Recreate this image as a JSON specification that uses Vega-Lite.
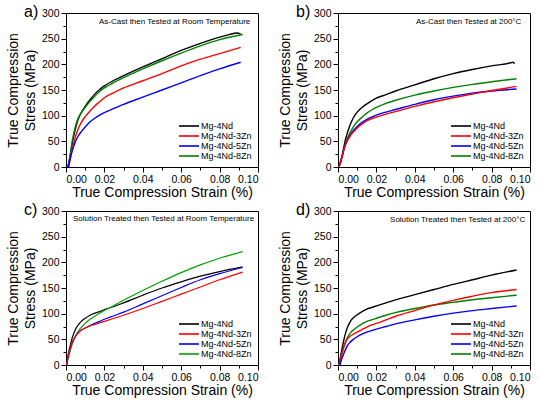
{
  "$schema": "https://vega.github.io/schema/vega-lite/v6.json",
  "padding": {"left": 5, "top": 3, "right": 4, "bottom": 2},
  "datasets": {
    "curves": [
      {"panel":"a","alloy":"Mg-4Nd","strain":0.001,"stress":0},{"panel":"a","alloy":"Mg-4Nd","strain":0.002,"stress":18},{"panel":"a","alloy":"Mg-4Nd","strain":0.003,"stress":40},{"panel":"a","alloy":"Mg-4Nd","strain":0.004,"stress":60},{"panel":"a","alloy":"Mg-4Nd","strain":0.005,"stress":76},{"panel":"a","alloy":"Mg-4Nd","strain":0.006,"stress":89},{"panel":"a","alloy":"Mg-4Nd","strain":0.007,"stress":99},{"panel":"a","alloy":"Mg-4Nd","strain":0.008,"stress":106},{"panel":"a","alloy":"Mg-4Nd","strain":0.01,"stress":118},{"panel":"a","alloy":"Mg-4Nd","strain":0.0125,"stress":131},{"panel":"a","alloy":"Mg-4Nd","strain":0.015,"stress":142},{"panel":"a","alloy":"Mg-4Nd","strain":0.0175,"stress":151},{"panel":"a","alloy":"Mg-4Nd","strain":0.02,"stress":158},{"panel":"a","alloy":"Mg-4Nd","strain":0.025,"stress":169},{"panel":"a","alloy":"Mg-4Nd","strain":0.03,"stress":178},{"panel":"a","alloy":"Mg-4Nd","strain":0.04,"stress":195},{"panel":"a","alloy":"Mg-4Nd","strain":0.05,"stress":211},{"panel":"a","alloy":"Mg-4Nd","strain":0.06,"stress":227},{"panel":"a","alloy":"Mg-4Nd","strain":0.07,"stress":241},{"panel":"a","alloy":"Mg-4Nd","strain":0.08,"stress":253},{"panel":"a","alloy":"Mg-4Nd","strain":0.085,"stress":258},{"panel":"a","alloy":"Mg-4Nd","strain":0.089,"stress":261},{"panel":"a","alloy":"Mg-4Nd","strain":0.091,"stress":259},
      {"panel":"a","alloy":"Mg-4Nd-8Zn","strain":0.001,"stress":0},{"panel":"a","alloy":"Mg-4Nd-8Zn","strain":0.002,"stress":20},{"panel":"a","alloy":"Mg-4Nd-8Zn","strain":0.003,"stress":45},{"panel":"a","alloy":"Mg-4Nd-8Zn","strain":0.004,"stress":65},{"panel":"a","alloy":"Mg-4Nd-8Zn","strain":0.005,"stress":80},{"panel":"a","alloy":"Mg-4Nd-8Zn","strain":0.006,"stress":92},{"panel":"a","alloy":"Mg-4Nd-8Zn","strain":0.007,"stress":100},{"panel":"a","alloy":"Mg-4Nd-8Zn","strain":0.008,"stress":106},{"panel":"a","alloy":"Mg-4Nd-8Zn","strain":0.01,"stress":116},{"panel":"a","alloy":"Mg-4Nd-8Zn","strain":0.0125,"stress":128},{"panel":"a","alloy":"Mg-4Nd-8Zn","strain":0.015,"stress":138},{"panel":"a","alloy":"Mg-4Nd-8Zn","strain":0.0175,"stress":147},{"panel":"a","alloy":"Mg-4Nd-8Zn","strain":0.02,"stress":154},{"panel":"a","alloy":"Mg-4Nd-8Zn","strain":0.025,"stress":165},{"panel":"a","alloy":"Mg-4Nd-8Zn","strain":0.03,"stress":174},{"panel":"a","alloy":"Mg-4Nd-8Zn","strain":0.04,"stress":191},{"panel":"a","alloy":"Mg-4Nd-8Zn","strain":0.05,"stress":207},{"panel":"a","alloy":"Mg-4Nd-8Zn","strain":0.06,"stress":222},{"panel":"a","alloy":"Mg-4Nd-8Zn","strain":0.07,"stress":236},{"panel":"a","alloy":"Mg-4Nd-8Zn","strain":0.08,"stress":248},{"panel":"a","alloy":"Mg-4Nd-8Zn","strain":0.092,"stress":258},
      {"panel":"a","alloy":"Mg-4Nd-3Zn","strain":0.0015,"stress":0},{"panel":"a","alloy":"Mg-4Nd-3Zn","strain":0.003,"stress":30},{"panel":"a","alloy":"Mg-4Nd-3Zn","strain":0.004,"stress":46},{"panel":"a","alloy":"Mg-4Nd-3Zn","strain":0.005,"stress":60},{"panel":"a","alloy":"Mg-4Nd-3Zn","strain":0.006,"stress":71},{"panel":"a","alloy":"Mg-4Nd-3Zn","strain":0.007,"stress":80},{"panel":"a","alloy":"Mg-4Nd-3Zn","strain":0.008,"stress":87},{"panel":"a","alloy":"Mg-4Nd-3Zn","strain":0.01,"stress":98},{"panel":"a","alloy":"Mg-4Nd-3Zn","strain":0.0125,"stress":109},{"panel":"a","alloy":"Mg-4Nd-3Zn","strain":0.015,"stress":119},{"panel":"a","alloy":"Mg-4Nd-3Zn","strain":0.0175,"stress":127},{"panel":"a","alloy":"Mg-4Nd-3Zn","strain":0.02,"stress":135},{"panel":"a","alloy":"Mg-4Nd-3Zn","strain":0.025,"stress":145},{"panel":"a","alloy":"Mg-4Nd-3Zn","strain":0.03,"stress":154},{"panel":"a","alloy":"Mg-4Nd-3Zn","strain":0.04,"stress":168},{"panel":"a","alloy":"Mg-4Nd-3Zn","strain":0.05,"stress":182},{"panel":"a","alloy":"Mg-4Nd-3Zn","strain":0.06,"stress":197},{"panel":"a","alloy":"Mg-4Nd-3Zn","strain":0.07,"stress":210},{"panel":"a","alloy":"Mg-4Nd-3Zn","strain":0.08,"stress":221},{"panel":"a","alloy":"Mg-4Nd-3Zn","strain":0.091,"stress":233},
      {"panel":"a","alloy":"Mg-4Nd-5Zn","strain":0.001,"stress":0},{"panel":"a","alloy":"Mg-4Nd-5Zn","strain":0.002,"stress":14},{"panel":"a","alloy":"Mg-4Nd-5Zn","strain":0.003,"stress":28},{"panel":"a","alloy":"Mg-4Nd-5Zn","strain":0.004,"stress":40},{"panel":"a","alloy":"Mg-4Nd-5Zn","strain":0.005,"stress":50},{"panel":"a","alloy":"Mg-4Nd-5Zn","strain":0.006,"stress":58},{"panel":"a","alloy":"Mg-4Nd-5Zn","strain":0.007,"stress":64},{"panel":"a","alloy":"Mg-4Nd-5Zn","strain":0.008,"stress":69},{"panel":"a","alloy":"Mg-4Nd-5Zn","strain":0.01,"stress":78},{"panel":"a","alloy":"Mg-4Nd-5Zn","strain":0.0125,"stress":88},{"panel":"a","alloy":"Mg-4Nd-5Zn","strain":0.015,"stress":95},{"panel":"a","alloy":"Mg-4Nd-5Zn","strain":0.0175,"stress":101},{"panel":"a","alloy":"Mg-4Nd-5Zn","strain":0.02,"stress":106},{"panel":"a","alloy":"Mg-4Nd-5Zn","strain":0.025,"stress":114},{"panel":"a","alloy":"Mg-4Nd-5Zn","strain":0.03,"stress":122},{"panel":"a","alloy":"Mg-4Nd-5Zn","strain":0.04,"stress":136},{"panel":"a","alloy":"Mg-4Nd-5Zn","strain":0.05,"stress":150},{"panel":"a","alloy":"Mg-4Nd-5Zn","strain":0.06,"stress":164},{"panel":"a","alloy":"Mg-4Nd-5Zn","strain":0.07,"stress":178},{"panel":"a","alloy":"Mg-4Nd-5Zn","strain":0.08,"stress":191},{"panel":"a","alloy":"Mg-4Nd-5Zn","strain":0.091,"stress":204},

      {"panel":"b","alloy":"Mg-4Nd","strain":0.0005,"stress":0},{"panel":"b","alloy":"Mg-4Nd","strain":0.002,"stress":20},{"panel":"b","alloy":"Mg-4Nd","strain":0.003,"stress":38},{"panel":"b","alloy":"Mg-4Nd","strain":0.004,"stress":55},{"panel":"b","alloy":"Mg-4Nd","strain":0.005,"stress":68},{"panel":"b","alloy":"Mg-4Nd","strain":0.006,"stress":79},{"panel":"b","alloy":"Mg-4Nd","strain":0.007,"stress":88},{"panel":"b","alloy":"Mg-4Nd","strain":0.008,"stress":96},{"panel":"b","alloy":"Mg-4Nd","strain":0.01,"stress":107},{"panel":"b","alloy":"Mg-4Nd","strain":0.0125,"stress":116},{"panel":"b","alloy":"Mg-4Nd","strain":0.015,"stress":123},{"panel":"b","alloy":"Mg-4Nd","strain":0.0175,"stress":129},{"panel":"b","alloy":"Mg-4Nd","strain":0.02,"stress":134},{"panel":"b","alloy":"Mg-4Nd","strain":0.025,"stress":141},{"panel":"b","alloy":"Mg-4Nd","strain":0.03,"stress":148},{"panel":"b","alloy":"Mg-4Nd","strain":0.04,"stress":160},{"panel":"b","alloy":"Mg-4Nd","strain":0.05,"stress":172},{"panel":"b","alloy":"Mg-4Nd","strain":0.06,"stress":182},{"panel":"b","alloy":"Mg-4Nd","strain":0.07,"stress":190},{"panel":"b","alloy":"Mg-4Nd","strain":0.08,"stress":197},{"panel":"b","alloy":"Mg-4Nd","strain":0.09,"stress":203},{"panel":"b","alloy":"Mg-4Nd","strain":0.091,"stress":204},{"panel":"b","alloy":"Mg-4Nd","strain":0.092,"stress":201},
      {"panel":"b","alloy":"Mg-4Nd-8Zn","strain":0.0005,"stress":0},{"panel":"b","alloy":"Mg-4Nd-8Zn","strain":0.002,"stress":18},{"panel":"b","alloy":"Mg-4Nd-8Zn","strain":0.003,"stress":33},{"panel":"b","alloy":"Mg-4Nd-8Zn","strain":0.004,"stress":47},{"panel":"b","alloy":"Mg-4Nd-8Zn","strain":0.005,"stress":57},{"panel":"b","alloy":"Mg-4Nd-8Zn","strain":0.006,"stress":65},{"panel":"b","alloy":"Mg-4Nd-8Zn","strain":0.007,"stress":72},{"panel":"b","alloy":"Mg-4Nd-8Zn","strain":0.008,"stress":78},{"panel":"b","alloy":"Mg-4Nd-8Zn","strain":0.01,"stress":88},{"panel":"b","alloy":"Mg-4Nd-8Zn","strain":0.0125,"stress":97},{"panel":"b","alloy":"Mg-4Nd-8Zn","strain":0.015,"stress":105},{"panel":"b","alloy":"Mg-4Nd-8Zn","strain":0.0175,"stress":111},{"panel":"b","alloy":"Mg-4Nd-8Zn","strain":0.02,"stress":116},{"panel":"b","alloy":"Mg-4Nd-8Zn","strain":0.025,"stress":124},{"panel":"b","alloy":"Mg-4Nd-8Zn","strain":0.03,"stress":130},{"panel":"b","alloy":"Mg-4Nd-8Zn","strain":0.04,"stress":140},{"panel":"b","alloy":"Mg-4Nd-8Zn","strain":0.05,"stress":148},{"panel":"b","alloy":"Mg-4Nd-8Zn","strain":0.06,"stress":155},{"panel":"b","alloy":"Mg-4Nd-8Zn","strain":0.07,"stress":161},{"panel":"b","alloy":"Mg-4Nd-8Zn","strain":0.08,"stress":166},{"panel":"b","alloy":"Mg-4Nd-8Zn","strain":0.093,"stress":172},
      {"panel":"b","alloy":"Mg-4Nd-5Zn","strain":0.0005,"stress":0},{"panel":"b","alloy":"Mg-4Nd-5Zn","strain":0.002,"stress":18},{"panel":"b","alloy":"Mg-4Nd-5Zn","strain":0.003,"stress":33},{"panel":"b","alloy":"Mg-4Nd-5Zn","strain":0.004,"stress":45},{"panel":"b","alloy":"Mg-4Nd-5Zn","strain":0.005,"stress":53},{"panel":"b","alloy":"Mg-4Nd-5Zn","strain":0.006,"stress":60},{"panel":"b","alloy":"Mg-4Nd-5Zn","strain":0.007,"stress":66},{"panel":"b","alloy":"Mg-4Nd-5Zn","strain":0.008,"stress":71},{"panel":"b","alloy":"Mg-4Nd-5Zn","strain":0.01,"stress":79},{"panel":"b","alloy":"Mg-4Nd-5Zn","strain":0.0125,"stress":87},{"panel":"b","alloy":"Mg-4Nd-5Zn","strain":0.015,"stress":93},{"panel":"b","alloy":"Mg-4Nd-5Zn","strain":0.0175,"stress":97},{"panel":"b","alloy":"Mg-4Nd-5Zn","strain":0.02,"stress":101},{"panel":"b","alloy":"Mg-4Nd-5Zn","strain":0.025,"stress":107},{"panel":"b","alloy":"Mg-4Nd-5Zn","strain":0.03,"stress":112},{"panel":"b","alloy":"Mg-4Nd-5Zn","strain":0.04,"stress":122},{"panel":"b","alloy":"Mg-4Nd-5Zn","strain":0.05,"stress":131},{"panel":"b","alloy":"Mg-4Nd-5Zn","strain":0.06,"stress":138},{"panel":"b","alloy":"Mg-4Nd-5Zn","strain":0.07,"stress":144},{"panel":"b","alloy":"Mg-4Nd-5Zn","strain":0.08,"stress":148},{"panel":"b","alloy":"Mg-4Nd-5Zn","strain":0.093,"stress":152},
      {"panel":"b","alloy":"Mg-4Nd-3Zn","strain":0.0005,"stress":0},{"panel":"b","alloy":"Mg-4Nd-3Zn","strain":0.002,"stress":18},{"panel":"b","alloy":"Mg-4Nd-3Zn","strain":0.003,"stress":33},{"panel":"b","alloy":"Mg-4Nd-3Zn","strain":0.004,"stress":44},{"panel":"b","alloy":"Mg-4Nd-3Zn","strain":0.005,"stress":52},{"panel":"b","alloy":"Mg-4Nd-3Zn","strain":0.006,"stress":58},{"panel":"b","alloy":"Mg-4Nd-3Zn","strain":0.007,"stress":64},{"panel":"b","alloy":"Mg-4Nd-3Zn","strain":0.008,"stress":68},{"panel":"b","alloy":"Mg-4Nd-3Zn","strain":0.01,"stress":76},{"panel":"b","alloy":"Mg-4Nd-3Zn","strain":0.0125,"stress":84},{"panel":"b","alloy":"Mg-4Nd-3Zn","strain":0.015,"stress":90},{"panel":"b","alloy":"Mg-4Nd-3Zn","strain":0.0175,"stress":94},{"panel":"b","alloy":"Mg-4Nd-3Zn","strain":0.02,"stress":97},{"panel":"b","alloy":"Mg-4Nd-3Zn","strain":0.025,"stress":103},{"panel":"b","alloy":"Mg-4Nd-3Zn","strain":0.03,"stress":108},{"panel":"b","alloy":"Mg-4Nd-3Zn","strain":0.04,"stress":118},{"panel":"b","alloy":"Mg-4Nd-3Zn","strain":0.05,"stress":127},{"panel":"b","alloy":"Mg-4Nd-3Zn","strain":0.06,"stress":135},{"panel":"b","alloy":"Mg-4Nd-3Zn","strain":0.07,"stress":142},{"panel":"b","alloy":"Mg-4Nd-3Zn","strain":0.08,"stress":149},{"panel":"b","alloy":"Mg-4Nd-3Zn","strain":0.093,"stress":157},

      {"panel":"c","alloy":"Mg-4Nd","strain":0.0003,"stress":0},{"panel":"c","alloy":"Mg-4Nd","strain":0.001,"stress":18},{"panel":"c","alloy":"Mg-4Nd","strain":0.002,"stress":35},{"panel":"c","alloy":"Mg-4Nd","strain":0.003,"stress":50},{"panel":"c","alloy":"Mg-4Nd","strain":0.004,"stress":61},{"panel":"c","alloy":"Mg-4Nd","strain":0.005,"stress":70},{"panel":"c","alloy":"Mg-4Nd","strain":0.006,"stress":76},{"panel":"c","alloy":"Mg-4Nd","strain":0.007,"stress":81},{"panel":"c","alloy":"Mg-4Nd","strain":0.008,"stress":85},{"panel":"c","alloy":"Mg-4Nd","strain":0.01,"stress":91},{"panel":"c","alloy":"Mg-4Nd","strain":0.0125,"stress":97},{"panel":"c","alloy":"Mg-4Nd","strain":0.015,"stress":101},{"panel":"c","alloy":"Mg-4Nd","strain":0.0175,"stress":104},{"panel":"c","alloy":"Mg-4Nd","strain":0.02,"stress":108},{"panel":"c","alloy":"Mg-4Nd","strain":0.025,"stress":114},{"panel":"c","alloy":"Mg-4Nd","strain":0.03,"stress":121},{"panel":"c","alloy":"Mg-4Nd","strain":0.04,"stress":136},{"panel":"c","alloy":"Mg-4Nd","strain":0.05,"stress":150},{"panel":"c","alloy":"Mg-4Nd","strain":0.06,"stress":162},{"panel":"c","alloy":"Mg-4Nd","strain":0.07,"stress":173},{"panel":"c","alloy":"Mg-4Nd","strain":0.08,"stress":182},{"panel":"c","alloy":"Mg-4Nd","strain":0.092,"stress":191},
      {"panel":"c","alloy":"Mg-4Nd-8Zn","strain":0.0005,"stress":0},{"panel":"c","alloy":"Mg-4Nd-8Zn","strain":0.001,"stress":10},{"panel":"c","alloy":"Mg-4Nd-8Zn","strain":0.002,"stress":25},{"panel":"c","alloy":"Mg-4Nd-8Zn","strain":0.003,"stress":38},{"panel":"c","alloy":"Mg-4Nd-8Zn","strain":0.004,"stress":48},{"panel":"c","alloy":"Mg-4Nd-8Zn","strain":0.005,"stress":56},{"panel":"c","alloy":"Mg-4Nd-8Zn","strain":0.006,"stress":63},{"panel":"c","alloy":"Mg-4Nd-8Zn","strain":0.007,"stress":69},{"panel":"c","alloy":"Mg-4Nd-8Zn","strain":0.008,"stress":73},{"panel":"c","alloy":"Mg-4Nd-8Zn","strain":0.01,"stress":81},{"panel":"c","alloy":"Mg-4Nd-8Zn","strain":0.0125,"stress":89},{"panel":"c","alloy":"Mg-4Nd-8Zn","strain":0.015,"stress":95},{"panel":"c","alloy":"Mg-4Nd-8Zn","strain":0.0175,"stress":101},{"panel":"c","alloy":"Mg-4Nd-8Zn","strain":0.02,"stress":106},{"panel":"c","alloy":"Mg-4Nd-8Zn","strain":0.025,"stress":116},{"panel":"c","alloy":"Mg-4Nd-8Zn","strain":0.03,"stress":126},{"panel":"c","alloy":"Mg-4Nd-8Zn","strain":0.04,"stress":145},{"panel":"c","alloy":"Mg-4Nd-8Zn","strain":0.05,"stress":163},{"panel":"c","alloy":"Mg-4Nd-8Zn","strain":0.06,"stress":180},{"panel":"c","alloy":"Mg-4Nd-8Zn","strain":0.07,"stress":195},{"panel":"c","alloy":"Mg-4Nd-8Zn","strain":0.08,"stress":208},{"panel":"c","alloy":"Mg-4Nd-8Zn","strain":0.092,"stress":221},
      {"panel":"c","alloy":"Mg-4Nd-5Zn","strain":0.0003,"stress":0},{"panel":"c","alloy":"Mg-4Nd-5Zn","strain":0.001,"stress":15},{"panel":"c","alloy":"Mg-4Nd-5Zn","strain":0.002,"stress":30},{"panel":"c","alloy":"Mg-4Nd-5Zn","strain":0.003,"stress":42},{"panel":"c","alloy":"Mg-4Nd-5Zn","strain":0.004,"stress":50},{"panel":"c","alloy":"Mg-4Nd-5Zn","strain":0.005,"stress":56},{"panel":"c","alloy":"Mg-4Nd-5Zn","strain":0.006,"stress":61},{"panel":"c","alloy":"Mg-4Nd-5Zn","strain":0.007,"stress":65},{"panel":"c","alloy":"Mg-4Nd-5Zn","strain":0.008,"stress":68},{"panel":"c","alloy":"Mg-4Nd-5Zn","strain":0.01,"stress":72},{"panel":"c","alloy":"Mg-4Nd-5Zn","strain":0.0125,"stress":77},{"panel":"c","alloy":"Mg-4Nd-5Zn","strain":0.015,"stress":81},{"panel":"c","alloy":"Mg-4Nd-5Zn","strain":0.0175,"stress":85},{"panel":"c","alloy":"Mg-4Nd-5Zn","strain":0.02,"stress":89},{"panel":"c","alloy":"Mg-4Nd-5Zn","strain":0.025,"stress":96},{"panel":"c","alloy":"Mg-4Nd-5Zn","strain":0.03,"stress":103},{"panel":"c","alloy":"Mg-4Nd-5Zn","strain":0.04,"stress":119},{"panel":"c","alloy":"Mg-4Nd-5Zn","strain":0.05,"stress":135},{"panel":"c","alloy":"Mg-4Nd-5Zn","strain":0.06,"stress":151},{"panel":"c","alloy":"Mg-4Nd-5Zn","strain":0.07,"stress":166},{"panel":"c","alloy":"Mg-4Nd-5Zn","strain":0.08,"stress":178},{"panel":"c","alloy":"Mg-4Nd-5Zn","strain":0.092,"stress":190},
      {"panel":"c","alloy":"Mg-4Nd-3Zn","strain":0.0003,"stress":0},{"panel":"c","alloy":"Mg-4Nd-3Zn","strain":0.001,"stress":15},{"panel":"c","alloy":"Mg-4Nd-3Zn","strain":0.002,"stress":30},{"panel":"c","alloy":"Mg-4Nd-3Zn","strain":0.003,"stress":42},{"panel":"c","alloy":"Mg-4Nd-3Zn","strain":0.004,"stress":50},{"panel":"c","alloy":"Mg-4Nd-3Zn","strain":0.005,"stress":56},{"panel":"c","alloy":"Mg-4Nd-3Zn","strain":0.006,"stress":61},{"panel":"c","alloy":"Mg-4Nd-3Zn","strain":0.007,"stress":65},{"panel":"c","alloy":"Mg-4Nd-3Zn","strain":0.008,"stress":68},{"panel":"c","alloy":"Mg-4Nd-3Zn","strain":0.01,"stress":72},{"panel":"c","alloy":"Mg-4Nd-3Zn","strain":0.0125,"stress":76},{"panel":"c","alloy":"Mg-4Nd-3Zn","strain":0.015,"stress":79},{"panel":"c","alloy":"Mg-4Nd-3Zn","strain":0.0175,"stress":82},{"panel":"c","alloy":"Mg-4Nd-3Zn","strain":0.02,"stress":85},{"panel":"c","alloy":"Mg-4Nd-3Zn","strain":0.025,"stress":91},{"panel":"c","alloy":"Mg-4Nd-3Zn","strain":0.03,"stress":97},{"panel":"c","alloy":"Mg-4Nd-3Zn","strain":0.04,"stress":110},{"panel":"c","alloy":"Mg-4Nd-3Zn","strain":0.05,"stress":124},{"panel":"c","alloy":"Mg-4Nd-3Zn","strain":0.06,"stress":138},{"panel":"c","alloy":"Mg-4Nd-3Zn","strain":0.07,"stress":152},{"panel":"c","alloy":"Mg-4Nd-3Zn","strain":0.08,"stress":166},{"panel":"c","alloy":"Mg-4Nd-3Zn","strain":0.092,"stress":181},

      {"panel":"d","alloy":"Mg-4Nd","strain":0.0005,"stress":0},{"panel":"d","alloy":"Mg-4Nd","strain":0.001,"stress":10},{"panel":"d","alloy":"Mg-4Nd","strain":0.002,"stress":30},{"panel":"d","alloy":"Mg-4Nd","strain":0.003,"stress":48},{"panel":"d","alloy":"Mg-4Nd","strain":0.004,"stress":63},{"panel":"d","alloy":"Mg-4Nd","strain":0.005,"stress":74},{"panel":"d","alloy":"Mg-4Nd","strain":0.006,"stress":82},{"panel":"d","alloy":"Mg-4Nd","strain":0.007,"stress":88},{"panel":"d","alloy":"Mg-4Nd","strain":0.008,"stress":92},{"panel":"d","alloy":"Mg-4Nd","strain":0.01,"stress":98},{"panel":"d","alloy":"Mg-4Nd","strain":0.0125,"stress":104},{"panel":"d","alloy":"Mg-4Nd","strain":0.015,"stress":109},{"panel":"d","alloy":"Mg-4Nd","strain":0.0175,"stress":112},{"panel":"d","alloy":"Mg-4Nd","strain":0.02,"stress":115},{"panel":"d","alloy":"Mg-4Nd","strain":0.025,"stress":121},{"panel":"d","alloy":"Mg-4Nd","strain":0.03,"stress":127},{"panel":"d","alloy":"Mg-4Nd","strain":0.04,"stress":137},{"panel":"d","alloy":"Mg-4Nd","strain":0.05,"stress":147},{"panel":"d","alloy":"Mg-4Nd","strain":0.06,"stress":157},{"panel":"d","alloy":"Mg-4Nd","strain":0.07,"stress":166},{"panel":"d","alloy":"Mg-4Nd","strain":0.08,"stress":175},{"panel":"d","alloy":"Mg-4Nd","strain":0.093,"stress":185},
      {"panel":"d","alloy":"Mg-4Nd-8Zn","strain":0.0005,"stress":0},{"panel":"d","alloy":"Mg-4Nd-8Zn","strain":0.001,"stress":8},{"panel":"d","alloy":"Mg-4Nd-8Zn","strain":0.002,"stress":22},{"panel":"d","alloy":"Mg-4Nd-8Zn","strain":0.003,"stress":35},{"panel":"d","alloy":"Mg-4Nd-8Zn","strain":0.004,"stress":46},{"panel":"d","alloy":"Mg-4Nd-8Zn","strain":0.005,"stress":54},{"panel":"d","alloy":"Mg-4Nd-8Zn","strain":0.006,"stress":60},{"panel":"d","alloy":"Mg-4Nd-8Zn","strain":0.007,"stress":65},{"panel":"d","alloy":"Mg-4Nd-8Zn","strain":0.008,"stress":68},{"panel":"d","alloy":"Mg-4Nd-8Zn","strain":0.01,"stress":74},{"panel":"d","alloy":"Mg-4Nd-8Zn","strain":0.0125,"stress":80},{"panel":"d","alloy":"Mg-4Nd-8Zn","strain":0.015,"stress":85},{"panel":"d","alloy":"Mg-4Nd-8Zn","strain":0.0175,"stress":88},{"panel":"d","alloy":"Mg-4Nd-8Zn","strain":0.02,"stress":91},{"panel":"d","alloy":"Mg-4Nd-8Zn","strain":0.025,"stress":97},{"panel":"d","alloy":"Mg-4Nd-8Zn","strain":0.03,"stress":102},{"panel":"d","alloy":"Mg-4Nd-8Zn","strain":0.04,"stress":110},{"panel":"d","alloy":"Mg-4Nd-8Zn","strain":0.05,"stress":117},{"panel":"d","alloy":"Mg-4Nd-8Zn","strain":0.06,"stress":122},{"panel":"d","alloy":"Mg-4Nd-8Zn","strain":0.07,"stress":127},{"panel":"d","alloy":"Mg-4Nd-8Zn","strain":0.08,"stress":131},{"panel":"d","alloy":"Mg-4Nd-8Zn","strain":0.093,"stress":136},
      {"panel":"d","alloy":"Mg-4Nd-3Zn","strain":0.0005,"stress":0},{"panel":"d","alloy":"Mg-4Nd-3Zn","strain":0.001,"stress":8},{"panel":"d","alloy":"Mg-4Nd-3Zn","strain":0.002,"stress":22},{"panel":"d","alloy":"Mg-4Nd-3Zn","strain":0.003,"stress":35},{"panel":"d","alloy":"Mg-4Nd-3Zn","strain":0.004,"stress":45},{"panel":"d","alloy":"Mg-4Nd-3Zn","strain":0.005,"stress":51},{"panel":"d","alloy":"Mg-4Nd-3Zn","strain":0.006,"stress":55},{"panel":"d","alloy":"Mg-4Nd-3Zn","strain":0.007,"stress":58},{"panel":"d","alloy":"Mg-4Nd-3Zn","strain":0.008,"stress":60},{"panel":"d","alloy":"Mg-4Nd-3Zn","strain":0.01,"stress":64},{"panel":"d","alloy":"Mg-4Nd-3Zn","strain":0.0125,"stress":69},{"panel":"d","alloy":"Mg-4Nd-3Zn","strain":0.015,"stress":74},{"panel":"d","alloy":"Mg-4Nd-3Zn","strain":0.0175,"stress":78},{"panel":"d","alloy":"Mg-4Nd-3Zn","strain":0.02,"stress":81},{"panel":"d","alloy":"Mg-4Nd-3Zn","strain":0.025,"stress":88},{"panel":"d","alloy":"Mg-4Nd-3Zn","strain":0.03,"stress":95},{"panel":"d","alloy":"Mg-4Nd-3Zn","strain":0.04,"stress":106},{"panel":"d","alloy":"Mg-4Nd-3Zn","strain":0.05,"stress":117},{"panel":"d","alloy":"Mg-4Nd-3Zn","strain":0.06,"stress":126},{"panel":"d","alloy":"Mg-4Nd-3Zn","strain":0.07,"stress":134},{"panel":"d","alloy":"Mg-4Nd-3Zn","strain":0.08,"stress":141},{"panel":"d","alloy":"Mg-4Nd-3Zn","strain":0.093,"stress":147},
      {"panel":"d","alloy":"Mg-4Nd-5Zn","strain":0.001,"stress":0},{"panel":"d","alloy":"Mg-4Nd-5Zn","strain":0.002,"stress":12},{"panel":"d","alloy":"Mg-4Nd-5Zn","strain":0.003,"stress":22},{"panel":"d","alloy":"Mg-4Nd-5Zn","strain":0.004,"stress":31},{"panel":"d","alloy":"Mg-4Nd-5Zn","strain":0.005,"stress":38},{"panel":"d","alloy":"Mg-4Nd-5Zn","strain":0.006,"stress":43},{"panel":"d","alloy":"Mg-4Nd-5Zn","strain":0.007,"stress":47},{"panel":"d","alloy":"Mg-4Nd-5Zn","strain":0.008,"stress":50},{"panel":"d","alloy":"Mg-4Nd-5Zn","strain":0.01,"stress":55},{"panel":"d","alloy":"Mg-4Nd-5Zn","strain":0.0125,"stress":60},{"panel":"d","alloy":"Mg-4Nd-5Zn","strain":0.015,"stress":64},{"panel":"d","alloy":"Mg-4Nd-5Zn","strain":0.0175,"stress":67},{"panel":"d","alloy":"Mg-4Nd-5Zn","strain":0.02,"stress":70},{"panel":"d","alloy":"Mg-4Nd-5Zn","strain":0.025,"stress":75},{"panel":"d","alloy":"Mg-4Nd-5Zn","strain":0.03,"stress":80},{"panel":"d","alloy":"Mg-4Nd-5Zn","strain":0.04,"stress":88},{"panel":"d","alloy":"Mg-4Nd-5Zn","strain":0.05,"stress":95},{"panel":"d","alloy":"Mg-4Nd-5Zn","strain":0.06,"stress":101},{"panel":"d","alloy":"Mg-4Nd-5Zn","strain":0.07,"stress":106},{"panel":"d","alloy":"Mg-4Nd-5Zn","strain":0.08,"stress":110},{"panel":"d","alloy":"Mg-4Nd-5Zn","strain":0.093,"stress":115}
    ],
    "notes": [
      {"panel":"a","strain":0.096,"stress":282,"label":"As-Cast then Tested at Room Temperature"},
      {"panel":"b","strain":0.0955,"stress":282,"label":"As-Cast then Tested at 200°C"},
      {"panel":"c","strain":0.098,"stress":284,"label":"Solution Treated then Tested at Room Temperature"},
      {"panel":"d","strain":0.0975,"stress":282,"label":"Solution Treated then Tested at 200°C"}
    ]
  },
  "config": {
    "font": "Liberation Sans",
    "view": {"stroke": "black", "strokeWidth": 1},
    "axis": {
      "grid": false,
      "domainColor": "black",
      "tickColor": "black",
      "labelColor": "black",
      "titleColor": "black",
      "labelFontSize": 10.5,
      "titleFontSize": 14,
      "titleFontWeight": "normal",
      "labelFont": "Liberation Sans",
      "titleFont": "Liberation Sans",
      "labelPadding": 2
    },
    "legend": {
      "orient": "bottom-right",
      "title": null,
      "symbolType": "M-2.5,0H2.5",
      "symbolSize": 64,
      "symbolStrokeWidth": 1.6,
      "labelFontSize": 9,
      "labelColor": "black",
      "labelFont": "Liberation Sans",
      "rowPadding": -3,
      "offset": 6,
      "padding": 0,
      "labelOffset": 7
    },
    "title": {
      "anchor": "start",
      "frame": "group",
      "orient": "top",
      "fontSize": 16,
      "fontWeight": "normal",
      "color": "black",
      "font": "Liberation Sans",
      "offset": -12,
      "dx": -42
    }
  },
  "resolve": {"scale": {"color": "independent"}, "legend": {"color": "independent"}},
  "spacing": 1,
  "vconcat": [
    {
      "resolve": {"scale": {"color": "independent"}, "legend": {"color": "independent"}},
      "spacing": 18,
      "hconcat": [
        {
          "title": "a)",
          "width": 192, "height": 154,
          "layer": [
            {
              "data": {"name": "curves"},
              "transform": [{"filter": "datum.panel == 'a'"}],
              "mark": {"type": "line", "strokeWidth": 1.4, "interpolate": "monotone"},
              "encoding": {
                "x": {"field": "strain", "type": "quantitative", "scale": {"domain": [0, 0.1], "nice": false},
                  "axis": {"title": "True Compression Strain (%)", "values": [0,0.01,0.02,0.03,0.04,0.05,0.06,0.07,0.08,0.09,0.1], "tickCount": 50, "labelOverlap": false,
                    "labelExpr": "round(datum.value*100) % 2 == 0 ? format(datum.value, '.2f') : ''",
                    "tickSize": {"condition": {"test": "round(datum.value*100) % 2 == 0", "value": 5}, "value": 3}, "titlePadding": 1}},
                "y": {"field": "stress", "type": "quantitative", "scale": {"domain": [0, 300], "nice": false},
                  "axis": {"title": ["True Compression", "Stress (MPa)"], "titleLineHeight": 17, "values": [0,25,50,75,100,125,150,175,200,225,250,275,300], "tickCount": 50, "labelOverlap": false,
                    "labelExpr": "datum.value % 50 == 0 ? datum.label : ''",
                    "tickSize": {"condition": {"test": "datum.value % 50 == 0", "value": 5}, "value": 3}, "titlePadding": 4}},
                "color": {"field": "alloy", "type": "nominal", "sort": null,
                  "scale": {"domain": ["Mg-4Nd", "Mg-4Nd-3Zn", "Mg-4Nd-5Zn", "Mg-4Nd-8Zn"], "range": ["#000000", "#ff0000", "#0000ff", "#008000"]}}
              }
            },
            {
              "data": {"name": "notes"},
              "transform": [{"filter": "datum.panel == 'a'"}],
              "mark": {"type": "text", "align": "right", "baseline": "middle", "fontSize": 8, "color": "black"},
              "encoding": {
                "x": {"field": "strain", "type": "quantitative"},
                "y": {"field": "stress", "type": "quantitative"},
                "text": {"field": "label"}
              }
            }
          ]
        },
        {
          "title": "b)",
          "width": 192, "height": 154,
          "layer": [
            {
              "data": {"name": "curves"},
              "transform": [{"filter": "datum.panel == 'b'"}],
              "mark": {"type": "line", "strokeWidth": 1.4, "interpolate": "monotone"},
              "encoding": {
                "x": {"field": "strain", "type": "quantitative", "scale": {"domain": [0, 0.1], "nice": false},
                  "axis": {"title": "True Compression Strain (%)", "values": [0,0.01,0.02,0.03,0.04,0.05,0.06,0.07,0.08,0.09,0.1], "tickCount": 50, "labelOverlap": false,
                    "labelExpr": "round(datum.value*100) % 2 == 0 ? format(datum.value, '.2f') : ''",
                    "tickSize": {"condition": {"test": "round(datum.value*100) % 2 == 0", "value": 5}, "value": 3}, "titlePadding": 1}},
                "y": {"field": "stress", "type": "quantitative", "scale": {"domain": [0, 300], "nice": false},
                  "axis": {"title": ["True Compression", "Stress (MPa)"], "titleLineHeight": 17, "values": [0,25,50,75,100,125,150,175,200,225,250,275,300], "tickCount": 50, "labelOverlap": false,
                    "labelExpr": "datum.value % 50 == 0 ? datum.label : ''",
                    "tickSize": {"condition": {"test": "datum.value % 50 == 0", "value": 5}, "value": 3}, "titlePadding": 4}},
                "color": {"field": "alloy", "type": "nominal", "sort": null,
                  "scale": {"domain": ["Mg-4Nd", "Mg-4Nd-3Zn", "Mg-4Nd-5Zn", "Mg-4Nd-8Zn"], "range": ["#000000", "#ff0000", "#0000ff", "#008000"]}}
              }
            },
            {
              "data": {"name": "notes"},
              "transform": [{"filter": "datum.panel == 'b'"}],
              "mark": {"type": "text", "align": "right", "baseline": "middle", "fontSize": 8, "color": "black"},
              "encoding": {
                "x": {"field": "strain", "type": "quantitative"},
                "y": {"field": "stress", "type": "quantitative"},
                "text": {"field": "label"}
              }
            }
          ]
        }
      ]
    },
    {
      "resolve": {"scale": {"color": "independent"}, "legend": {"color": "independent"}},
      "spacing": 18,
      "hconcat": [
        {
          "title": "c)",
          "width": 192, "height": 154,
          "layer": [
            {
              "data": {"name": "curves"},
              "transform": [{"filter": "datum.panel == 'c'"}],
              "mark": {"type": "line", "strokeWidth": 1.2, "interpolate": "monotone"},
              "encoding": {
                "x": {"field": "strain", "type": "quantitative", "scale": {"domain": [0, 0.1], "nice": false},
                  "axis": {"title": "True Compression Strain (%)", "values": [0,0.01,0.02,0.03,0.04,0.05,0.06,0.07,0.08,0.09,0.1], "tickCount": 50, "labelOverlap": false,
                    "labelExpr": "round(datum.value*100) % 2 == 0 ? format(datum.value, '.2f') : ''",
                    "tickSize": {"condition": {"test": "round(datum.value*100) % 2 == 0", "value": 5}, "value": 3}, "titlePadding": 1}},
                "y": {"field": "stress", "type": "quantitative", "scale": {"domain": [0, 300], "nice": false},
                  "axis": {"title": ["True Compression", "Stress (MPa)"], "titleLineHeight": 17, "values": [0,25,50,75,100,125,150,175,200,225,250,275,300], "tickCount": 50, "labelOverlap": false,
                    "labelExpr": "datum.value % 50 == 0 ? datum.label : ''",
                    "tickSize": {"condition": {"test": "datum.value % 50 == 0", "value": 5}, "value": 3}, "titlePadding": 4}},
                "color": {"field": "alloy", "type": "nominal", "sort": null,
                  "scale": {"domain": ["Mg-4Nd", "Mg-4Nd-3Zn", "Mg-4Nd-5Zn", "Mg-4Nd-8Zn"], "range": ["#000000", "#ff0000", "#0000ff", "#00a000"]}}
              }
            },
            {
              "data": {"name": "notes"},
              "transform": [{"filter": "datum.panel == 'c'"}],
              "mark": {"type": "text", "align": "right", "baseline": "middle", "fontSize": 8, "color": "black"},
              "encoding": {
                "x": {"field": "strain", "type": "quantitative"},
                "y": {"field": "stress", "type": "quantitative"},
                "text": {"field": "label"}
              }
            }
          ]
        },
        {
          "title": "d)",
          "width": 192, "height": 154,
          "layer": [
            {
              "data": {"name": "curves"},
              "transform": [{"filter": "datum.panel == 'd'"}],
              "mark": {"type": "line", "strokeWidth": 1.4, "interpolate": "monotone"},
              "encoding": {
                "x": {"field": "strain", "type": "quantitative", "scale": {"domain": [0, 0.1], "nice": false},
                  "axis": {"title": "True Compression Strain (%)", "values": [0,0.01,0.02,0.03,0.04,0.05,0.06,0.07,0.08,0.09,0.1], "tickCount": 50, "labelOverlap": false,
                    "labelExpr": "round(datum.value*100) % 2 == 0 ? format(datum.value, '.2f') : ''",
                    "tickSize": {"condition": {"test": "round(datum.value*100) % 2 == 0", "value": 5}, "value": 3}, "titlePadding": 1}},
                "y": {"field": "stress", "type": "quantitative", "scale": {"domain": [0, 300], "nice": false},
                  "axis": {"title": ["True Compression", "Stress (MPa)"], "titleLineHeight": 17, "values": [0,25,50,75,100,125,150,175,200,225,250,275,300], "tickCount": 50, "labelOverlap": false,
                    "labelExpr": "datum.value % 50 == 0 ? datum.label : ''",
                    "tickSize": {"condition": {"test": "datum.value % 50 == 0", "value": 5}, "value": 3}, "titlePadding": 4}},
                "color": {"field": "alloy", "type": "nominal", "sort": null,
                  "scale": {"domain": ["Mg-4Nd", "Mg-4Nd-3Zn", "Mg-4Nd-5Zn", "Mg-4Nd-8Zn"], "range": ["#000000", "#ff0000", "#0000ff", "#008000"]}}
              }
            },
            {
              "data": {"name": "notes"},
              "transform": [{"filter": "datum.panel == 'd'"}],
              "mark": {"type": "text", "align": "right", "baseline": "middle", "fontSize": 8, "color": "black"},
              "encoding": {
                "x": {"field": "strain", "type": "quantitative"},
                "y": {"field": "stress", "type": "quantitative"},
                "text": {"field": "label"}
              }
            }
          ]
        }
      ]
    }
  ]
}
